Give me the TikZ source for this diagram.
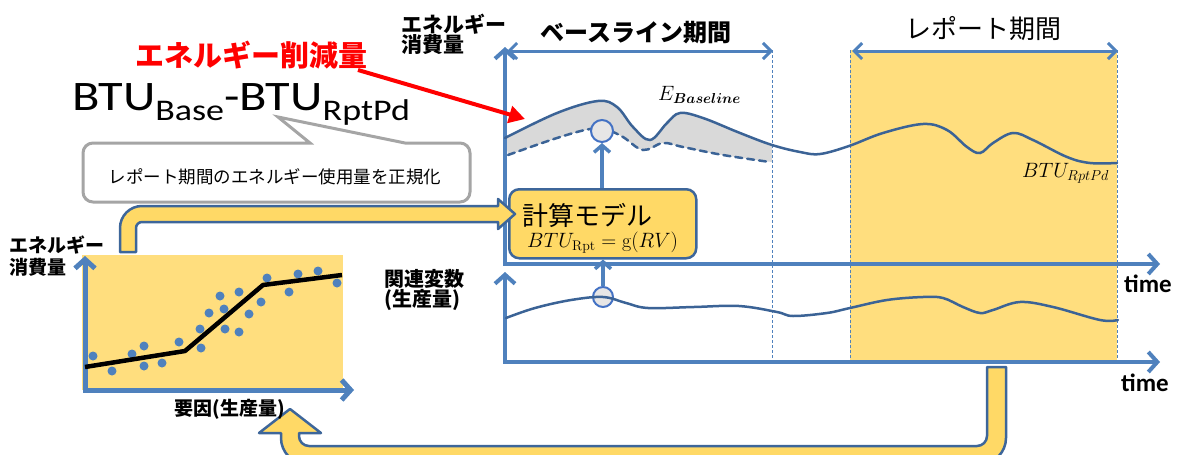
\documentclass[tikz,border=0pt]{standalone}
\usepackage{bm}
\usepackage{fontspec}
\newfontfamily\jp{Noto Sans CJK JP}
\newfontfamily\btu[FakeStretch=1.2]{Carlito}
\newfontfamily\tm{Carlito}
\usetikzlibrary{arrows.meta}
\definecolor{axisblue}{HTML}{4F81BD}
\definecolor{curve}{HTML}{3B6396}
\definecolor{yel}{HTML}{FFDE7E}
\definecolor{yelarrow}{HTML}{FFD966}
\definecolor{edge}{HTML}{3D669A}
\definecolor{band}{HTML}{D9D9D9}
\definecolor{callgray}{HTML}{A5A5A5}
\definecolor{circblue}{HTML}{4472C4}
\definecolor{circfill}{HTML}{E7E6E6}
\begin{document}
\begin{tikzpicture}[x=1pt,y=-1pt,
  axisline/.style={draw=axisblue,line width=4pt,-{Straight Barb[length=9pt,width=20pt]}},
  smallaxis/.style={draw=axisblue,line width=5pt,-{Straight Barb[length=9pt,width=20pt]}},
  spanarrow/.style={draw=axisblue,line width=3pt,{Straight Barb[length=8pt,width=16pt]}-{Straight Barb[length=8pt,width=16pt]}},
  guide/.style={draw=axisblue,line width=0.8pt,dash pattern=on 3pt off 2pt},
  curveline/.style={draw=curve,line width=2.5pt,line cap=round},
  probe/.style={draw=axisblue,line width=3.5pt,-{Straight Barb[length=7pt,width=16pt]}},
  dot/.style={fill=axisblue},
  bigarrow/.style={draw=edge,line width=2.5pt,fill=yelarrow,line join=round},
  txt/.style={inner sep=0pt,anchor=base},
]
\useasboundingbox (0,0) rectangle (1187,455);
% report period background
\fill[yel] (850,50) rectangle (1117,362);
% left chart background
\fill[yel] (82,255) rectangle (343,390);
% baseline band
\fill[band] plot[smooth,tension=0.6] coordinates {(505,138) (557,113) (600,101) (617,107) (633,127) (650,140) (667,123) (680,113) (703,118) (740,133) (772,145)}
  -- plot[smooth,tension=0.6] coordinates {(772,162) (723,155) (683,147) (663,143) (643,150) (623,137) (607,130) (590,129) (557,138) (508,155)} -- cycle;
% guides
\draw[guide] (772,50) -- (772,362);
\draw[guide] (850,50) -- (850,362);
\draw[guide] (1117,50) -- (1117,362);
% axes
\coordinate (uo) at (505,264);
\coordinate (lo) at (505,362);
\draw[axisline] (uo) -- (505,47);
\draw[axisline] (503,264) -- (1160,264);
\draw[axisline] (lo) -- (505,272);
\draw[axisline] (503,362) -- (1160,362);
% period arrows
\draw[spanarrow] (507,51) -- (773,51);
\draw[spanarrow] (852,51) -- (1118,51);
% curves
\draw[curveline] plot[smooth,tension=0.6] coordinates {(505,138) (557,113) (598,101) (617,107) (633,127) (650,140) (667,123) (680,113) (703,118) (740,133) (772,145) (800,152) (820,154) (849,146) (883,133) (923,124) (947,130) (967,147) (980,153) (993,143) (1013,133) (1033,140) (1067,157) (1090,163) (1117,163)};
\draw[curveline,dash pattern=on 7pt off 5pt] plot[smooth,tension=0.6] coordinates {(508,155) (557,138) (590,129) (607,130) (623,137) (643,150) (663,143) (683,147) (723,155) (770,162)};
\node[circle,draw=circblue,line width=2pt,fill=circfill,minimum size=22pt,inner sep=0pt] (c1) at (602,131) {};
\node[circle,draw=circblue,line width=2pt,fill=circfill,minimum size=20pt,inner sep=0pt] (c2) at (603,297) {};
\draw[curveline] plot[smooth,tension=0.6] coordinates {(506,318) (535,308) (571,300) (603,297) (626,303) (648,308) (694,307) (739,306) (777,312) (793,316) (827,313) (850,308) (887,300) (923,297) (943,298) (963,307) (980,313) (993,310) (1020,302) (1053,307) (1100,320) (1118,320)};
% model box
\node[draw=edge,line width=2.5pt,fill=yelarrow,rounded corners=10pt,minimum width=187pt,minimum height=69pt,anchor=north west,inner sep=0pt] (model) at (508,188) {};
\node[txt,anchor=base west,font=\jp\fontsize{26}{26}\selectfont] (modeltitle) at (522,225) {計算モデル};
\node[txt,anchor=base west,font=\fontsize{20}{20}\selectfont] (modelformula) at (527,247) {$BTU_{\mathrm{Rpt}} = \mathrm{g}(RV)$};
\draw[probe] (c1 |- model.north) -- (c1.south);
\draw[probe] (c2.north) -- (c2 |- model.south);
% left chart
\draw[smallaxis] (85,390) -- (85,256);
\draw[smallaxis] (83,390) -- (354,390);
\foreach \p in {(93,356),(112,371),(132,354),(144,346),(144,366),(162,363),(179,342),(200,329),(201,348),(209,313),(220,296),(224,309),(225,329),(239,292),(239,332),(249,314),(261,302),(267,278),(289,292),(298,274),(318,271),(337,283)}
  \fill[dot] \p circle (4.5);
\draw[black,line width=4.5pt,line join=round] (85,367) -- (185,351) -- (263,285) -- (342,275);
% yellow flow arrows
\draw[bigarrow] (120,252) [rounded corners=22pt] -- (120,206) [sharp corners] -- (498,206) -- (498,199) -- (515,214) -- (498,229) -- (498,222) [rounded corners=6pt] -- (136,222) [sharp corners] -- (136,252) -- cycle;
\draw[bigarrow] (987,367) -- (1006,367) [rounded corners=26pt] -- (1006,464) -- (281,464) [sharp corners] -- (281,433) -- (259,433) -- (290,409) -- (321,433) -- (299,433) [rounded corners=10pt] -- (299,446) -- (987,446) [sharp corners] -- cycle;
% callout
\draw[callgray,line width=3pt,fill=white] (310,143) [rounded corners=10pt] -- (83,143) -- (83,202) -- (470,202) -- (470,143) [sharp corners] -- (405,143) -- (278,117) -- cycle;
\node[txt,font=\jp\fontsize{17.5}{17.5}\selectfont] (calltext) at (275,183) {レポート期間のエネルギー使用量を正規化};
% formula
\node[txt,anchor=base west,font=\btu\fontsize{42}{42}\selectfont] (btu) at (72,110) {BTU\raisebox{-10pt}{\fontsize{30}{30}\selectfont Base}-BTU\raisebox{-10pt}{\fontsize{30}{30}\selectfont RptPd}};
% red title and arrow
\node[txt,text=red,font=\jp\bfseries\fontsize{29}{29}\selectfont] (saving) at (251,66) {エネルギー削減量};
\coordinate (redstart) at (358,70);
\coordinate (redtip) at (525,119);
\draw[red,line width=4pt,-{Triangle[length=16pt,width=17pt]}] (redstart) -- (redtip);
% labels
\node[inner sep=0pt,anchor=north west,align=left,font=\jp\bfseries\fontsize{21}{20}\selectfont] (ylabup) at (401,14) {エネルギー\\消費量};
\node[txt,font=\jp\bfseries\fontsize{24}{24}\selectfont] (blabel) at (636,41) {ベースライン期間};
\node[txt,font=\jp\fontsize{26}{26}\selectfont] (rlabel) at (983,38) {レポート期間};
\node[txt,anchor=base west,font=\fontsize{20}{20}\selectfont] (ebase) at (658,100) {$E_{\bm{Baseline}}$};
\begin{scope}
\clip (1000,150) rectangle (1118,200);
\node[txt,anchor=base west,font=\fontsize{21}{21}\selectfont] (btur) at (1022,177) {$BTU_{RptPd}$};
\end{scope}
\node[txt,anchor=base west,font=\tm\bfseries\fontsize{25}{25}\selectfont] (time1) at (1124,292) {time};
\node[txt,anchor=base west,font=\tm\bfseries\fontsize{25}{25}\selectfont] (time2) at (1121,391) {time};
\node[inner sep=0pt,anchor=north west,align=left,font=\jp\bfseries\fontsize{20}{19}\selectfont] (rvlabel) at (384,269) {関連変数\\(生産量)};
\node[inner sep=0pt,anchor=north west,align=left,font=\jp\bfseries\fontsize{19}{22}\selectfont] (ylableft) at (9,236) {エネルギー\\消費量};
\node[txt,font=\jp\bfseries\fontsize{19}{19}\selectfont] (xlableft) at (230,415) {要因(生産量)};
\end{tikzpicture}
\end{document}
